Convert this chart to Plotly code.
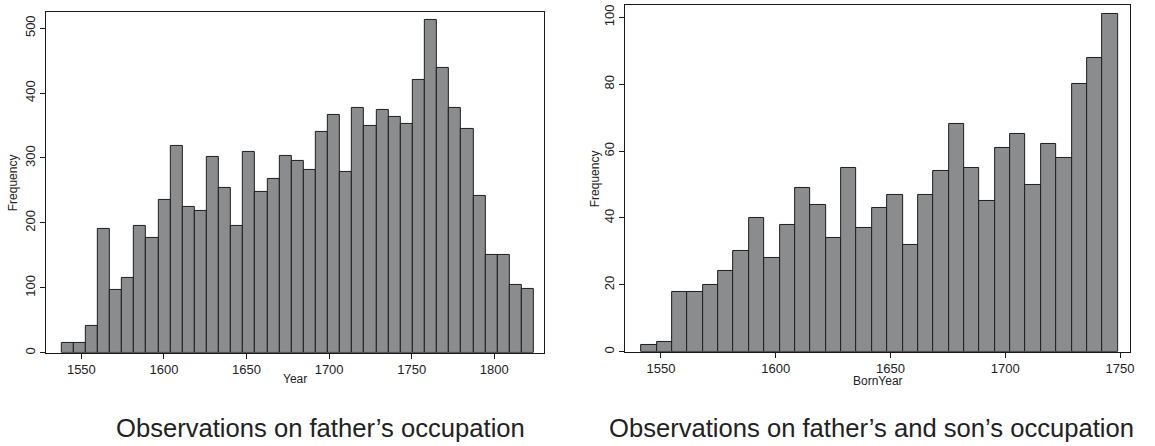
import plotly.graph_objects as go

# Histogram of observation years for fathers' occupations
father_start = 1538.0
father_width = 286.0 / 39
father_counts = [15, 15, 41, 190, 96, 115, 195, 177, 235, 318,
                 224, 219, 301, 254, 195, 309, 248, 268, 303, 295,
                 281, 340, 367, 279, 377, 350, 374, 363, 352, 420,
                 512, 438, 377, 344, 241, 150, 150, 104, 98]

# Histogram of birth years where both father and son occupations are observed
pair_start = 1541.5
pair_width = 207.5 / 31
pair_counts = [2, 3, 18, 18, 20, 24, 30, 40, 28, 38,
               49, 44, 34, 55, 37, 43, 47, 32, 47, 54,
               68, 55, 45, 61, 65, 50, 62, 58, 80, 88, 101]

left_xticks = [1550, 1600, 1650, 1700, 1750, 1800]
left_yticks = [0, 100, 200, 300, 400, 500]
right_xticks = [1550, 1600, 1650, 1700, 1750]
right_yticks = [0, 20, 40, 60, 80, 100]

W, H = 1155, 446
FONT = "Liberation Sans, Arial, sans-serif"
TXT = "#222222"
BAR_FILL = "#8b8c8e"
BAR_LINE = "#1e1e1e"


def centers(start, width, n):
    return [start + width * (i + 0.5) for i in range(n)]


def px_x(p):
    return p / W


def px_y(p):
    return 1 - p / H


fig = go.Figure()

fig.add_trace(go.Bar(
    x=centers(father_start, father_width, len(father_counts)),
    y=father_counts, width=father_width,
    marker=dict(color=BAR_FILL, line=dict(color=BAR_LINE, width=1)),
    xaxis="x", yaxis="y", showlegend=False, hoverinfo="skip"))

fig.add_trace(go.Bar(
    x=centers(pair_start, pair_width, len(pair_counts)),
    y=pair_counts, width=pair_width,
    marker=dict(color=BAR_FILL, line=dict(color=BAR_LINE, width=1)),
    xaxis="x2", yaxis="y2", showlegend=False, hoverinfo="skip"))

axis_common = dict(
    showgrid=False, zeroline=False, showline=True, linecolor="#1a1a1a",
    linewidth=1, mirror=True, ticks="outside", ticklen=5, tickwidth=1,
    tickcolor="#1a1a1a", tickfont=dict(family=FONT, size=13, color=TXT),
)

# left panel: x 46..546 px, y 12..354 px
L_x0, L_x1, L_y0, L_y1 = 46, 545.7, 12, 354.3
# right panel: x 627..1134 px, y 5..353 px
R_x0, R_x1, R_y0, R_y1 = 627.3, 1134.3, 5, 353.3

fig.update_layout(
    width=W, height=H, margin=dict(l=0, r=0, t=0, b=0),
    paper_bgcolor="white", plot_bgcolor="white", bargap=0,
    xaxis=dict(domain=[px_x(L_x0), px_x(L_x1)], range=[1528.5, 1830],
               tickvals=left_xticks, anchor="y", **axis_common),
    yaxis=dict(domain=[px_y(L_y1), px_y(L_y0)], range=[0, 525],
               tickvals=left_yticks, tickangle=-90, anchor="x", **axis_common),
    xaxis2=dict(domain=[px_x(R_x0), px_x(R_x1)], range=[1534.4, 1754.5],
                tickvals=right_xticks, anchor="y2", **axis_common),
    yaxis2=dict(domain=[px_y(R_y1), px_y(R_y0)], range=[0, 103.7],
                tickvals=right_yticks, tickangle=-90, anchor="x2", **axis_common),
)

ann = []


def label(text, x, y, size, angle=0):
    ann.append(dict(text=text, x=px_x(x), y=px_y(y), xref="paper", yref="paper",
                    xanchor="center", yanchor="middle", showarrow=False,
                    textangle=angle, font=dict(family=FONT, size=size, color=TXT)))


label("Frequency", 13, (L_y0 + L_y1) / 2, 12, -90)
label("Frequency", 597, (R_y0 + R_y1) / 2, 12, -90)
label("Year", (L_x0 + L_x1) / 2, 381, 12)
label("BornYear", (R_x0 + R_x1) / 2, 383, 12)
label("Observations on father\u2019s occupation", 321.5, 430, 25.6)
label("Observations on father\u2019s and son\u2019s occupation", 875, 430, 25.6)

fig.update_layout(annotations=ann)

fig.write_html("out.html")
